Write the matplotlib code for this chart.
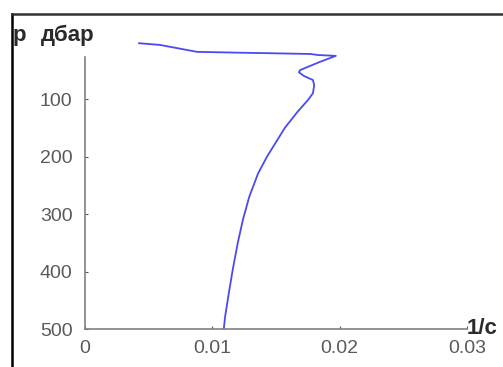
import numpy as np
import matplotlib
matplotlib.use("Agg")
import matplotlib.pyplot as plt
from matplotlib.lines import Line2D

# profile: 1/c vs pressure (dbar)
freq = [0.00425, 0.0059, 0.0088, 0.0122, 0.0148, 0.0177, 0.0183, 0.0197,
        0.0185, 0.0169, 0.0168, 0.0172, 0.0179, 0.0180, 0.0179, 0.0175,
        0.0167, 0.0157, 0.0150, 0.0143, 0.0136, 0.0129, 0.0124, 0.0120,
        0.0116, 0.0113, 0.0110, 0.0109]
pres = [3, 6, 18, 19.5, 20.5, 21.7, 23.5, 25,
        35, 49.6, 53.6, 60, 67, 76, 90, 102,
        122, 150, 175, 200, 229, 270, 310, 350,
        397, 437, 479, 500]

xticks = [0, 0.01, 0.02, 0.03]
xticklabels = ["0", "0.01", "0.02", "0.03"]
yticks = [100, 200, 300, 400, 500]

plt.rcParams["font.family"] = ["Liberation Sans", "DejaVu Sans"]

W, H = 503, 367
fig = plt.figure(figsize=(W / 100, H / 100), dpi=100)
ax = fig.add_axes([85 / W, 1 - 329 / H, (467 - 85) / W, (329 - 41.5) / H])

ax.plot(freq, pres, color="#4a4af5", lw=1.3)
ax.set_xlim(0, 0.03)
ax.set_ylim(500, 0)

for s in ("top", "right"):
    ax.spines[s].set_visible(False)
for s in ("left", "bottom"):
    ax.spines[s].set_color("#808080")
    ax.spines[s].set_linewidth(1.2)
ax.spines["left"].set_bounds(27, 500)

ax.set_xticks(xticks)
ax.set_xticklabels(xticklabels)
ax.set_yticks(yticks)
ax.tick_params(direction="in", length=2, color="#555555", labelcolor="#5a5a5a",
               labelsize=14)
ax.tick_params(axis="x", pad=8)
ax.tick_params(axis="y", pad=9)

# axis captions
fig.text(13 / W, 1 - 35 / H, "p", fontsize=16, fontweight="bold",
         color="#2a2a2a", va="center", ha="left")
fig.text(41 / W, 1 - 35 / H, "дбар", fontsize=16, fontweight="bold",
         color="#2a2a2a", va="center", ha="left")
fig.text(467 / W, 1 - 329 / H, "1/с", fontsize=16, fontweight="bold",
         color="#2a2a2a", va="center", ha="left")

# outer frame (left and top edges only visible)
fig.add_artist(Line2D([12 / W, 12 / W], [0, 1 - 14 / H], transform=fig.transFigure,
                      color="black", lw=1.8))
fig.add_artist(Line2D([12 / W, 1], [1 - 14 / H, 1 - 14 / H], transform=fig.transFigure,
                      color="#333333", lw=1.8))

fig.savefig("out.png", dpi=100)
